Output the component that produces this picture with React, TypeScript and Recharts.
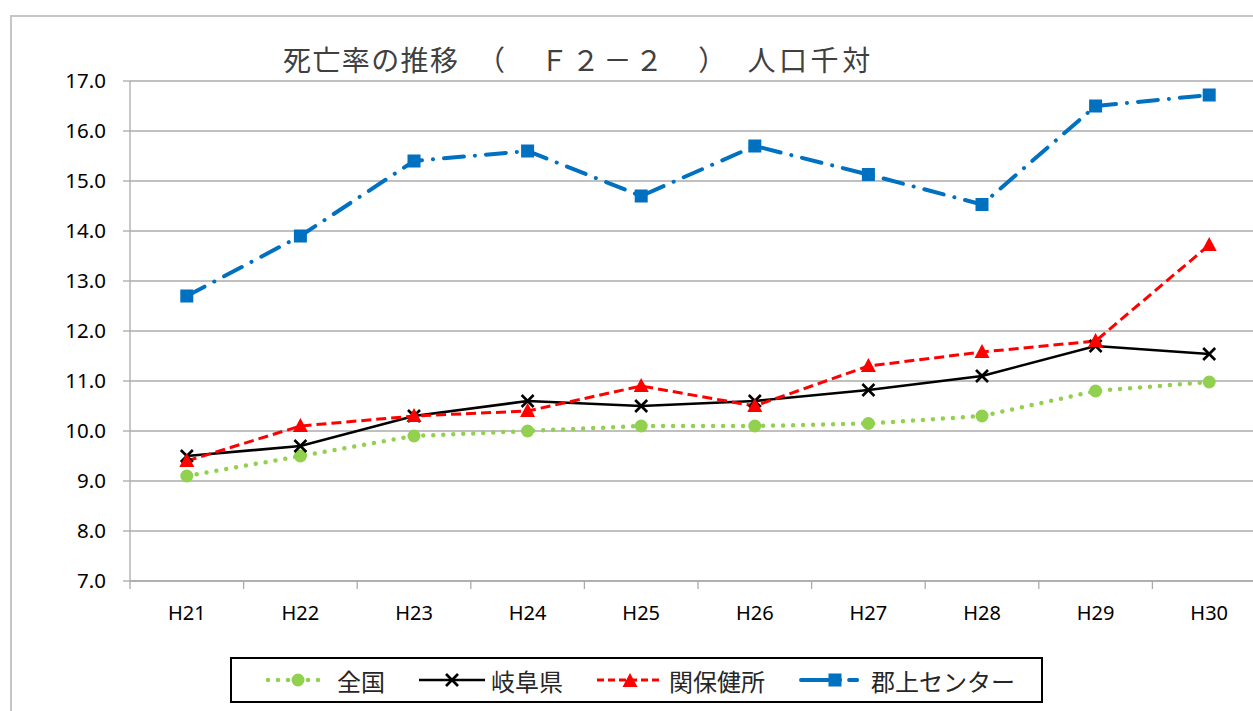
import React from 'react';
import { LineChart, Line, XAxis, YAxis, CartesianGrid } from 'recharts';

const CATEGORIES = ['H21', 'H22', 'H23', 'H24', 'H25', 'H26', 'H27', 'H28', 'H29', 'H30'];
const ZENKOKU = [9.1, 9.5, 9.9, 10.0, 10.1, 10.1, 10.15, 10.3, 10.8, 10.98];
const GIFU = [9.5, 9.7, 10.3, 10.6, 10.5, 10.6, 10.82, 11.1, 11.7, 11.54];
const SEKI = [9.4, 10.1, 10.3, 10.4, 10.9, 10.5, 11.3, 11.58, 11.8, 13.72];
const GUJO = [12.7, 13.9, 15.4, 15.6, 14.7, 15.7, 15.13, 14.53, 16.5, 16.72];
const Y_TICKS = [7, 8, 9, 10, 11, 12, 13, 14, 15, 16, 17];
const TITLE_MAIN = '死亡率の推移';
const TITLE_REST = '　（　Ｆ２－２　）　人口千対';

const data = CATEGORIES.map((c, i) => ({
  name: c,
  zenkoku: ZENKOKU[i],
  gifu: GIFU[i],
  seki: SEKI[i],
  gujo: GUJO[i],
}));

const CHART_W = 1290;
const CHART_H = 711;
const PLOT_LEFT = 130;
const PLOT_RIGHT_MARGIN = 24;
const BAND = (CHART_W - PLOT_RIGHT_MARGIN - PLOT_LEFT) / CATEGORIES.length;

const GRID = '#ababab';
const NUM_FONT = '"Noto Sans", sans-serif';
const JP_FONT = '"Noto Sans CJK JP", sans-serif';

const GREEN = '#92D050';
const RED = '#FF0000';
const BLUE = '#0070C0';

const Circle = ({ cx, cy }: any) => <circle cx={cx} cy={cy} r={6.5} fill={GREEN} />;
const Cross = ({ cx, cy }: any) => (
  <g stroke="#000" strokeWidth={2.6}>
    <line x1={cx - 6} y1={cy - 6} x2={cx + 6} y2={cy + 6} />
    <line x1={cx - 6} y1={cy + 6} x2={cx + 6} y2={cy - 6} />
  </g>
);
const Tri = ({ cx, cy }: any) => (
  <polygon points={`${cx},${cy - 8} ${cx - 7.5},${cy + 6} ${cx + 7.5},${cy + 6}`} fill={RED} />
);
const Sq = ({ cx, cy }: any) => <rect x={cx - 6.5} y={cy - 6.5} width={13} height={13} fill={BLUE} />;

const XTick = ({ x, y, payload, index }: any) => (
  <g>
    <line x1={x - BAND / 2} y1={y} x2={x - BAND / 2} y2={y + 8} stroke={GRID} strokeWidth={1.3} />
    {index === CATEGORIES.length - 1 && (
      <line x1={x + BAND / 2} y1={y} x2={x + BAND / 2} y2={y + 8} stroke={GRID} strokeWidth={1.3} />
    )}
    <text x={x} y={y + 39} textAnchor="middle" fontSize={20} fontFamily={NUM_FONT} fill="#000">
      {payload.value}
    </text>
  </g>
);

const legendItems = [
  { label: '全国', icon: (
    <svg width={66} height={20}>
      <line x1={3} y1={10} x2={63} y2={10} stroke={GREEN} strokeWidth={4.5} strokeDasharray="0 10" strokeLinecap="round" />
      <circle cx={33} cy={10} r={6.5} fill={GREEN} />
    </svg>
  ) },
  { label: '岐阜県', icon: (
    <svg width={66} height={20}>
      <line x1={0} y1={10} x2={66} y2={10} stroke="#000" strokeWidth={2.6} />
      <Cross cx={33} cy={10} />
    </svg>
  ) },
  { label: '関保健所', icon: (
    <svg width={66} height={20}>
      <line x1={0} y1={10} x2={66} y2={10} stroke={RED} strokeWidth={3} strokeDasharray="7 4" />
      <Tri cx={33} cy={11} />
    </svg>
  ) },
  { label: '郡上センター', icon: (
    <svg width={66} height={20}>
      <line x1={2} y1={10} x2={64} y2={10} stroke={BLUE} strokeWidth={4} strokeDasharray="30 9 0.1 9 8 20" strokeLinecap="round" />
      <Sq cx={36} cy={10} />
    </svg>
  ) },
];

export default function App() {
  return (
    <div style={{ position: 'absolute', left: 0, top: 0, width: 1253, height: 711, overflow: 'hidden', background: '#fff' }}>
      <div
        style={{
          position: 'absolute',
          left: 10,
          top: 15,
          width: 1400,
          height: 800,
          border: '2px solid #c6c6c6',
        }}
      />
      <div
        style={{
          position: 'absolute',
          left: 283,
          top: 40,
          fontFamily: JP_FONT,
          fontSize: 28,
          lineHeight: '38px',
          color: '#404040',
          whiteSpace: 'nowrap',
        }}
      >
        <span style={{ letterSpacing: 1.4 }}>{TITLE_MAIN}</span>
        <span style={{ letterSpacing: 3.6 }}>{TITLE_REST}</span>
      </div>
      <div style={{ position: 'absolute', left: 0, top: 0 }}>
        <LineChart
          width={CHART_W}
          height={CHART_H}
          data={data}
          margin={{ top: 81, right: PLOT_RIGHT_MARGIN, bottom: 90, left: 0 }}
        >
          <CartesianGrid horizontal vertical={false} stroke={GRID} strokeWidth={1.3} />
          <XAxis
            dataKey="name"
            height={40}
            padding={{ left: BAND / 2, right: BAND / 2 }}
            axisLine={{ stroke: GRID, strokeWidth: 1.3 }}
            tickLine={false}
            tickSize={0}
            tickMargin={0}
            tick={<XTick />}
            interval={0}
          />
          <YAxis
            width={PLOT_LEFT}
            domain={[7, 17]}
            ticks={Y_TICKS}
            tickFormatter={(v: number) => v.toFixed(1)}
            axisLine={{ stroke: GRID, strokeWidth: 1.3 }}
            tickLine={{ stroke: GRID, strokeWidth: 1.3 }}
            tickSize={7}
            tickMargin={17}
            tick={{ fontSize: 20.5, fontFamily: NUM_FONT, fill: '#000' }}
            allowDataOverflow
          />
          <Line
            dataKey="zenkoku"
            stroke={GREEN}
            strokeWidth={4.5}
            strokeDasharray="0 10"
            strokeLinecap="round"
            dot={(p: any) => <Circle key={`z${p.index}`} cx={p.cx} cy={p.cy} />}
            isAnimationActive={false}
          />
          <Line
            dataKey="gifu"
            stroke="#000"
            strokeWidth={2.6}
            dot={(p: any) => <Cross key={`g${p.index}`} cx={p.cx} cy={p.cy} />}
            isAnimationActive={false}
          />
          <Line
            dataKey="seki"
            stroke={RED}
            strokeWidth={3}
            strokeDasharray="10 5"
            dot={(p: any) => <Tri key={`s${p.index}`} cx={p.cx} cy={p.cy} />}
            isAnimationActive={false}
          />
          <Line
            dataKey="gujo"
            stroke={BLUE}
            strokeWidth={4}
            strokeDasharray="20 11 0.1 11"
            strokeLinecap="round"
            dot={(p: any) => <Sq key={`b${p.index}`} cx={p.cx} cy={p.cy} />}
            isAnimationActive={false}
          />
        </LineChart>
      </div>
      <div
        style={{
          position: 'absolute',
          left: 230,
          top: 657,
          width: 813,
          height: 46,
          boxSizing: 'border-box',
          border: '2px solid #000',
          display: 'flex',
          alignItems: 'center',
          paddingLeft: 33,
          gap: 34,
          fontFamily: JP_FONT,
          fontSize: 24,
          color: '#262626',
        }}
      >
        {legendItems.map((it) => (
          <div key={it.label} style={{ display: 'flex', alignItems: 'center', whiteSpace: 'nowrap' }}>
            {it.icon}
            <span style={{ marginLeft: 6 }}>{it.label}</span>
          </div>
        ))}
      </div>
    </div>
  );
}
